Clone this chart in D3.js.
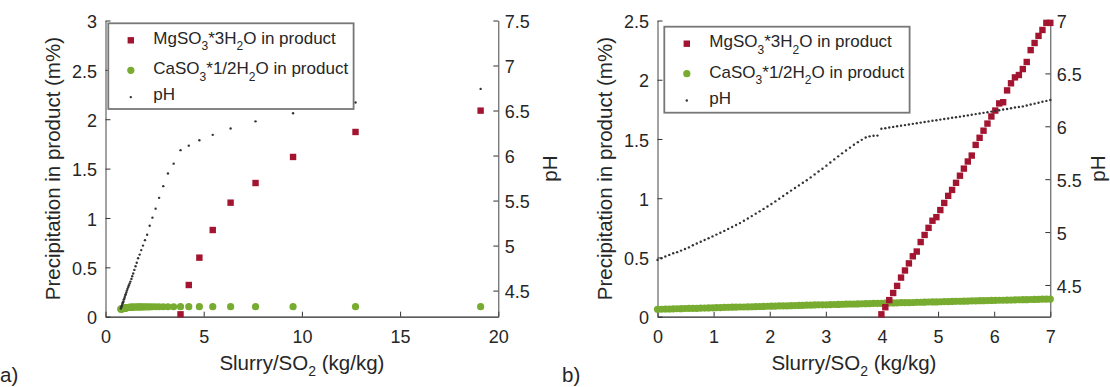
<!DOCTYPE html>
<html>
<head>
<meta charset="utf-8">
<script src="https://cdn.jsdelivr.net/npm/d3@7"></script>
<style>
  html, body { margin: 0; padding: 0; background: #fff; }
  svg { display: block; font-family: "Liberation Sans", Arial, Helvetica, sans-serif; }
</style>
</head>
<body>
<svg id="chart" width="1110" height="387"></svg>
<script>
// ---------------- Panel a) data ----------------
const xA = [19.10, 12.73, 9.55, 7.64, 6.37, 5.46, 4.78, 4.24, 3.82, 3.47, 3.18, 2.94, 2.73, 2.55, 2.39, 2.25,
  2.12, 2.01, 1.91, 1.82, 1.74, 1.66, 1.59, 1.53, 1.47, 1.41, 1.36, 1.32, 1.27, 1.23, 1.19, 1.16,
  1.12, 1.09, 1.06, 1.03, 1.01, 0.98, 0.96, 0.93, 0.91, 0.89, 0.87, 0.85, 0.83, 0.81, 0.80, 0.78];
const phA = [6.74, 6.59, 6.47, 6.38, 6.30, 6.23, 6.17, 6.11, 6.06, 5.91, 5.80, 5.66, 5.53, 5.41, 5.31, 5.22,
  5.12, 5.06, 5.00, 4.95, 4.90, 4.86, 4.81, 4.77, 4.73, 4.69, 4.66, 4.63, 4.60, 4.58, 4.56, 4.54,
  4.52, 4.50, 4.48, 4.46, 4.45, 4.43, 4.41, 4.40, 4.38, 4.37, 4.36, 4.34, 4.33, 4.32, 4.31, 4.30];
const caA = [0.102, 0.102, 0.102, 0.102, 0.102, 0.102, 0.102, 0.102, 0.102, 0.101, 0.101, 0.101, 0.101, 0.101, 0.101, 0.100,
  0.100, 0.100, 0.100, 0.099, 0.099, 0.099, 0.098, 0.098, 0.098, 0.097, 0.097, 0.096, 0.095, 0.095, 0.094, 0.093,
  0.092, 0.091, 0.090, 0.089, 0.088, 0.087, 0.086, 0.085, 0.084, 0.083, 0.082, 0.081, 0.080, 0.079, 0.078, 0.076];
const mgAx = [19.10, 12.73, 9.55, 7.64, 6.37, 5.46, 4.78, 4.24, 3.82];
const mgA  = [2.087, 1.871, 1.618, 1.354, 1.155, 0.878, 0.598, 0.321, 0.024];
const xTicksA = [0, 5, 10, 15, 20];
const yTicksA = [0, 0.5, 1, 1.5, 2, 2.5, 3];
const phTicksA = [4.5, 5, 5.5, 6, 6.5, 7, 7.5];

// ---------------- Panel b) data ----------------
const xB = [0.00, 0.07, 0.14, 0.21, 0.28, 0.35, 0.42, 0.49, 0.56, 0.63, 0.70, 0.77, 0.84, 0.91, 0.98,
  1.05, 1.12, 1.19, 1.26, 1.33, 1.40, 1.47, 1.54, 1.61, 1.68, 1.75, 1.82, 1.89, 1.96, 2.03, 2.10,
  2.17, 2.24, 2.31, 2.38, 2.45, 2.52, 2.59, 2.66, 2.73, 2.80, 2.87, 2.94, 3.01, 3.08, 3.15, 3.22,
  3.29, 3.36, 3.43, 3.50, 3.57, 3.64, 3.71, 3.78, 3.85, 3.92, 3.99, 4.06, 4.13, 4.20, 4.27, 4.34,
  4.41, 4.48, 4.55, 4.62, 4.69, 4.76, 4.83, 4.90, 4.97, 5.04, 5.11, 5.18, 5.25, 5.32, 5.39, 5.46,
  5.53, 5.60, 5.67, 5.74, 5.81, 5.88, 5.95, 6.02, 6.09, 6.16, 6.23, 6.30, 6.37, 6.44, 6.51, 6.58,
  6.65, 6.72, 6.79, 6.86, 6.93, 7.00];
const phB = [4.737, 4.753, 4.769, 4.784, 4.800, 4.810, 4.825, 4.840, 4.855, 4.876, 4.892, 4.908, 4.925, 4.941, 4.959,
  4.976, 4.994, 5.011, 5.030, 5.048, 5.067, 5.085, 5.107, 5.129, 5.151, 5.174, 5.196, 5.219, 5.242, 5.265, 5.290,
  5.315, 5.341, 5.367, 5.392, 5.417, 5.441, 5.466, 5.490, 5.517, 5.545, 5.572, 5.599, 5.628, 5.657, 5.687, 5.716,
  5.744, 5.771, 5.798, 5.825, 5.850, 5.872, 5.894, 5.905, 5.910, 5.912, 5.976, 5.982, 5.988, 5.994, 6.000, 6.006,
  6.011, 6.017, 6.023, 6.029, 6.035, 6.041, 6.046, 6.052, 6.057, 6.063, 6.069, 6.074, 6.080, 6.085, 6.091, 6.097,
  6.103, 6.109, 6.115, 6.121, 6.127, 6.133, 6.139, 6.145, 6.151, 6.158, 6.164, 6.170, 6.177, 6.183, 6.188, 6.197,
  6.206, 6.214, 6.223, 6.232, 6.240, 6.249];
const caB = [0.062, 0.063, 0.064, 0.065, 0.066, 0.067, 0.068, 0.069, 0.070, 0.070, 0.071, 0.072, 0.073, 0.074, 0.075,
  0.076, 0.077, 0.078, 0.079, 0.080, 0.081, 0.082, 0.082, 0.083, 0.084, 0.085, 0.086, 0.087, 0.088, 0.089, 0.090,
  0.091, 0.091, 0.092, 0.093, 0.094, 0.095, 0.096, 0.097, 0.098, 0.099, 0.100, 0.100, 0.101, 0.102, 0.103, 0.104,
  0.105, 0.106, 0.107, 0.107, 0.108, 0.109, 0.110, 0.111, 0.112, 0.113, 0.113, 0.114, 0.115, 0.116, 0.117, 0.118,
  0.119, 0.119, 0.120, 0.121, 0.122, 0.123, 0.124, 0.125, 0.125, 0.126, 0.127, 0.128, 0.129, 0.130, 0.130, 0.131,
  0.132, 0.133, 0.134, 0.135, 0.135, 0.136, 0.137, 0.138, 0.139, 0.139, 0.140, 0.141, 0.142, 0.143, 0.144, 0.144,
  0.145, 0.146, 0.147, 0.148, 0.148, 0.149];
const mgBx = [3.99, 4.06, 4.13, 4.20, 4.27, 4.34, 4.41, 4.48, 4.55, 4.62, 4.69, 4.76, 4.83, 4.90, 4.97,
  5.04, 5.11, 5.18, 5.25, 5.32, 5.39, 5.46, 5.53, 5.60, 5.67, 5.74, 5.81, 5.88, 5.95, 6.02, 6.09,
  6.16, 6.23, 6.30, 6.37, 6.44, 6.51, 6.58, 6.65, 6.72, 6.79, 6.86, 6.93, 7.00];
const mgB = [0.02, 0.08, 0.14, 0.20, 0.26, 0.33, 0.39, 0.45, 0.51, 0.55, 0.63, 0.69, 0.75, 0.81, 0.84,
  0.90, 0.96, 1.02, 1.07, 1.13, 1.19, 1.25, 1.31, 1.36, 1.45, 1.51, 1.57, 1.63, 1.69, 1.74, 1.80,
  1.81, 1.91, 1.97, 2.02, 2.04, 2.09, 2.15, 2.25, 2.31, 2.37, 2.42, 2.48, 2.48];
const xTicksB = [0, 1, 2, 3, 4, 5, 6, 7];
const yTicksB = [0, 0.5, 1, 1.5, 2, 2.5];
const phTicksB = [4.5, 5, 5.5, 6, 6.5, 7];

// ---------------- Drawing ----------------
const MG_COLOR = "#A2142F", CA_COLOR = "#77AC30", PH_COLOR = "#333333", TXT = "#262626";
const svg = d3.select("#chart");

function drawPanel(cfg) {
  const x = d3.scaleLinear().domain(cfg.xDom).range([cfg.left, cfg.right]);
  const y = d3.scaleLinear().domain(cfg.yDom).range([cfg.bottom, cfg.top]);
  const yp = d3.scaleLinear().domain(cfg.phDom).range([cfg.bottom, cfg.top]);
  const g = svg.append("g");

  // axes
  const ax = g.append("g").attr("transform", `translate(0,${cfg.bottom})`)
    .call(d3.axisBottom(x).tickValues(cfg.xTicks).tickFormat(d => String(d)).tickSizeInner(-5).tickSizeOuter(0).tickPadding(14));
  const ayl = g.append("g").attr("transform", `translate(${cfg.left},0)`)
    .call(d3.axisLeft(y).tickValues(cfg.yTicks).tickFormat(d => String(d)).tickSizeInner(-5).tickSizeOuter(0).tickPadding(8.5));
  const ayr = g.append("g").attr("transform", `translate(${cfg.right},0)`)
    .call(d3.axisRight(yp).tickValues(cfg.phTicks).tickFormat(d => String(d)).tickSizeInner(-5).tickSizeOuter(0).tickPadding(6.5));
  [ax, ayl, ayr].forEach(a => {
    a.attr("font-family", null).attr("font-size", null);
    a.selectAll("text").attr("fill", TXT).style("font-size", "18px");
    a.selectAll("line").attr("stroke", "#333");
  });
  ax.select(".domain").attr("stroke", "#262626").attr("stroke-width", 1.2);
  ayl.select(".domain").attr("stroke", "#444");
  ayr.select(".domain").attr("stroke", "#444");
  ayl.selectAll("text").attr("dy", "0.4em");
  ayr.selectAll("text").attr("dy", "0.4em");

  // marks: CaSO3 circles
  g.append("g").selectAll("circle").data(cfg.ca.map((v, i) => [cfg.caX[i], v])).join("circle")
    .attr("cx", d => x(d[0])).attr("cy", d => y(d[1])).attr("r", 3.6).attr("fill", CA_COLOR);
  // MgSO3 squares
  g.append("g").selectAll("rect").data(cfg.mg.map((v, i) => [cfg.mgX[i], v])).join("rect")
    .attr("x", d => x(d[0]) - 3.2).attr("y", d => y(d[1]) - 3.2).attr("width", 6.4).attr("height", 6.4).attr("fill", MG_COLOR);
  // pH dots
  g.append("g").selectAll("circle").data(cfg.ph.map((v, i) => [cfg.phX[i], v])).join("circle")
    .attr("cx", d => x(d[0])).attr("cy", d => yp(d[1])).attr("r", 1.2).attr("fill", PH_COLOR);

  // axis titles
  const xl = g.append("text").attr("x", (cfg.left + cfg.right) / 2).attr("y", 370)
    .attr("text-anchor", "middle").attr("fill", TXT).style("font-size", "20.5px");
  xl.append("tspan").text("Slurry/SO");
  xl.append("tspan").attr("dy", 6).style("font-size", "14px").text("2");
  xl.append("tspan").attr("dy", -6).text(" (kg/kg)");

  g.append("text").attr("transform", `translate(${cfg.yLabX},${(cfg.top + cfg.bottom) / 2}) rotate(-90)`)
    .attr("text-anchor", "middle").attr("fill", TXT).style("font-size", "20.5px")
    .text("Precipitation in product (m%)");
  g.append("text").attr("transform", `translate(${cfg.phLabX},${(cfg.top + cfg.bottom) / 2}) rotate(-90)`)
    .attr("text-anchor", "middle").attr("fill", TXT).style("font-size", "20.5px").text("pH");

  g.append("text").attr("x", cfg.tagX).attr("y", 382).attr("fill", TXT).style("font-size", "20.5px").text(cfg.tag);

  // legend
  const L = cfg.legend;
  const lg = g.append("g").attr("transform", `translate(${L.x},${L.y})`);
  lg.append("rect").attr("x", 0).attr("y", 0).attr("width", L.w).attr("height", L.h)
    .attr("fill", "#fff").attr("stroke", "#777").attr("stroke-width", 1.8);
  const mx = 22.5, tx = 45;
  lg.append("rect").attr("x", mx - 3.2).attr("y", 17 - 3.2).attr("width", 6.4).attr("height", 6.4).attr("fill", MG_COLOR);
  lg.append("circle").attr("cx", mx).attr("cy", 47).attr("r", 3.6).attr("fill", CA_COLOR);
  lg.append("circle").attr("cx", mx).attr("cy", 73.8).attr("r", 1.2).attr("fill", PH_COLOR);
  const t1 = lg.append("text").attr("x", tx).attr("y", 20.5).attr("fill", TXT).style("font-size", "17px");
  t1.append("tspan").text("MgSO");
  t1.append("tspan").attr("dy", 6.5).style("font-size", "12px").text("3");
  t1.append("tspan").attr("dy", -6.5).text("*3H");
  t1.append("tspan").attr("dy", 6.5).style("font-size", "12px").text("2");
  t1.append("tspan").attr("dy", -6.5).text("O in product");
  const t2 = lg.append("text").attr("x", tx).attr("y", 51).attr("fill", TXT).style("font-size", "17px");
  t2.append("tspan").text("CaSO");
  t2.append("tspan").attr("dy", 6.5).style("font-size", "12px").text("3");
  t2.append("tspan").attr("dy", -6.5).text("*1/2H");
  t2.append("tspan").attr("dy", 6.5).style("font-size", "12px").text("2");
  t2.append("tspan").attr("dy", -6.5).text("O in product");
  lg.append("text").attr("x", tx).attr("y", 77).attr("fill", TXT).style("font-size", "17px").text("pH");
}

drawPanel({
  left: 105.5, right: 498.3, top: 20.5, bottom: 316.7,
  xDom: [0, 20], yDom: [0, 3], phDom: [4.21, 7.5],
  xTicks: xTicksA, yTicks: yTicksA, phTicks: phTicksA,
  caX: xA, ca: caA, mgX: mgAx, mg: mgA, phX: xA, ph: phA,
  yLabX: 59.5, phLabX: 557, tag: "a)", tagX: 0,
  legend: { x: 108.3, y: 23.3, w: 245.3, h: 85.7 }
});
drawPanel({
  left: 657.5, right: 1050.3, top: 20.5, bottom: 316.7,
  xDom: [0, 7], yDom: [0, 2.5], phDom: [4.2, 7],
  xTicks: xTicksB, yTicks: yTicksB, phTicks: phTicksB,
  caX: xB, ca: caB, mgX: mgBx, mg: mgB, phX: xB, ph: phB,
  yLabX: 612, phLabX: 1105, tag: "b)", tagX: 562,
  legend: { x: 664.3, y: 26.7, w: 245.3, h: 86 }
});
</script>
</body>
</html>
